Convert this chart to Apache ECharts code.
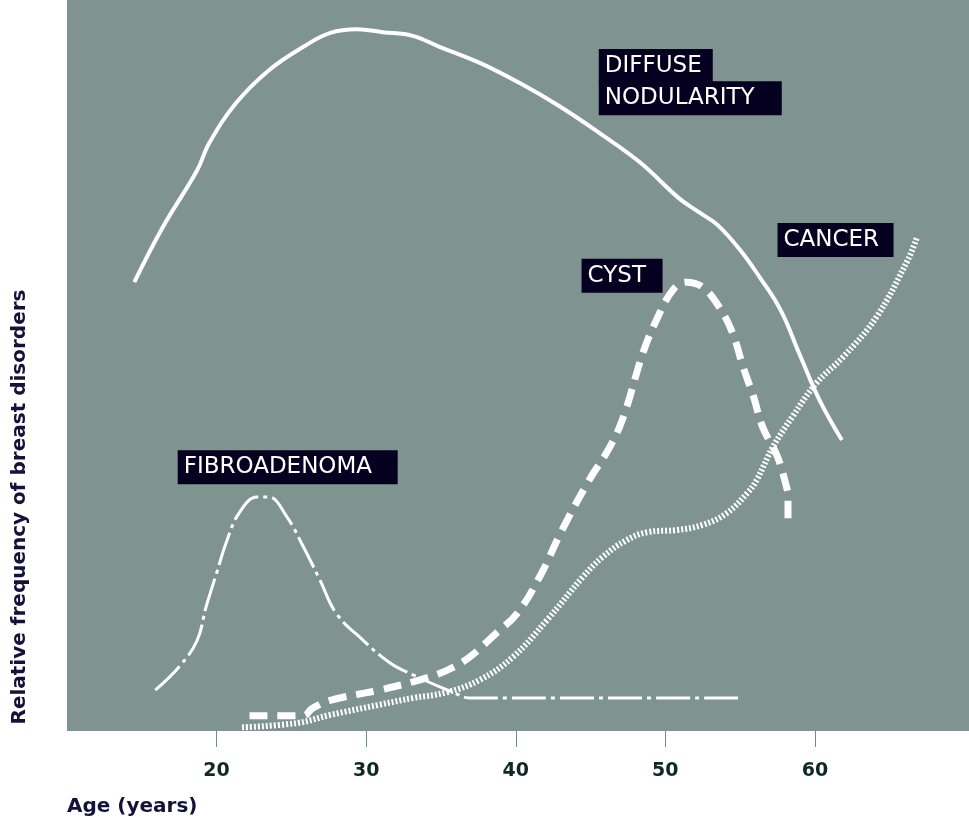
<!DOCTYPE html>
<html>
<head>
<meta charset="utf-8">
<script src="https://cdn.jsdelivr.net/npm/echarts@6/dist/echarts.min.js"></script>
<style>
  html, body { margin: 0; padding: 0; background: #ffffff; }
  #chart { width: 969px; height: 826px; }
</style>
</head>
<body>
<div id="chart"></div>
<script>
// x = age in years, y = relative frequency (0-100, no scale shown)
var ageTicks = [20, 30, 40, 50, 60]

var nodularityAge  = [14.5, 16.4, 18.7, 19.5, 21.3, 23.5, 25.8, 27.6, 29.4, 31.1, 33.1, 34.9, 37.6, 40.3, 42.9, 45.6, 48.3, 50.9, 52.3, 53.5, 55.0, 56.3, 57.7, 59.0, 60.3, 61.8]
var nodularityFreq = [61.4, 68.9, 76.7, 80.4, 85.9, 90.4, 93.6, 95.5, 96.0, 95.6, 95.1, 93.6, 91.4, 88.6, 85.5, 81.8, 77.8, 72.9, 70.9, 69.2, 65.8, 62.1, 57.6, 51.4, 45.3, 39.8]

var cystAge  = [22.2, 25.8, 26.4, 27.6, 30.9, 33.6, 35.4, 36.9, 38.7, 40.1, 41.6, 43.1, 44.9, 46.3, 47.2, 48.5, 49.4, 50.5, 51.4, 52.5, 53.6, 54.5, 55.2, 55.9, 56.5, 57.5, 58.1, 58.2, 58.2]
var cystFreq = [2.1, 2.1, 3.1, 4.2, 5.6, 7.0, 8.3, 10.1, 13.4, 16.1, 21.1, 27.5, 34.3, 38.9, 43.0, 51.7, 56.2, 60.3, 61.4, 60.7, 58.0, 54.4, 49.8, 45.7, 41.6, 37.5, 33.4, 32.3, 29.1]

var cancerAge  = [21.7, 25.4, 27.6, 30.9, 33.1, 35.4, 37.6, 39.8, 42.1, 44.5, 45.8, 47.4, 48.8, 50.8, 52.5, 54.1, 55.5, 56.1, 57.2, 58.5, 60.1, 61.9, 64.1, 66.2, 66.8]
var cancerFreq = [0.5, 1.1, 2.2, 3.6, 4.5, 5.3, 7.0, 10.1, 15.2, 21.1, 23.8, 26.1, 27.2, 27.5, 28.2, 29.8, 32.6, 34.3, 38.9, 43.0, 47.6, 51.2, 56.6, 64.4, 67.4]

var fibroAge  = [15.9, 17.5, 18.7, 19.3, 20.0, 20.7, 21.5, 22.7, 23.5, 24.7, 25.8, 26.9, 28.0, 29.8, 31.6, 33.1, 35.8, 37.0, 55.1]
var fibroFreq = [5.6, 8.8, 12.4, 17.0, 21.6, 26.1, 29.8, 32.0, 32.0, 29.3, 25.2, 20.7, 16.1, 12.4, 9.3, 7.7, 5.3, 4.5, 4.5]

// label boxes: top-left corner in data coordinates
var labelText = ['DIFFUSE', 'NODULARITY', 'CYST', 'CANCER', 'FIBROADENOMA']
var labelAge  = [45.55, 45.55, 44.4, 57.5, 17.4]
var labelFreq = [93.3, 88.9, 64.6, 69.5, 38.4]
var labelWidth = [102, 171, 69, 104, 208]

function pairs(xs, ys) {
  return xs.map(function (x, i) { return [x, ys[i]] })
}

var chart = echarts.init(document.getElementById('chart'))

var labelPoints = labelText.map(function (t, i) {
  return {
    name: t,
    coord: [labelAge[i], labelFreq[i]],
    label: { width: labelWidth[i] }
  }
})

chart.setOption({
  animation: false,
  grid: {
    left: 67,
    right: 0,
    top: 0,
    bottom: 95,
    show: true,
    backgroundColor: '#7f9490',
    borderWidth: 0
  },
  xAxis: {
    type: 'value',
    min: 10,
    max: 70.3,
    interval: 10,
    splitLine: { show: false },
    axisLine: { show: false },
    axisTick: {
      show: true,
      customValues: ageTicks,
      length: 16,
      lineStyle: { color: '#75888a', width: 1 }
    },
    axisLabel: {
      customValues: ageTicks,
      margin: 31,
      color: '#0f2a26',
      fontFamily: 'DejaVu Sans',
      fontWeight: 'bold',
      fontSize: 19
    }
  },
  yAxis: {
    type: 'value',
    min: 0,
    max: 100,
    axisLine: { show: false },
    axisTick: { show: false },
    axisLabel: { show: false },
    splitLine: { show: false }
  },
  graphic: [
    {
      type: 'text',
      left: 67,
      top: 797,
      style: {
        text: 'Age (years)',
        fill: '#15113a',
        font: 'bold 20px "DejaVu Sans"'
      }
    },
    {
      type: 'text',
      x: 20,
      y: 507,
      rotation: Math.PI / 2,
      style: {
        text: 'Relative frequency of breast disorders',
        fill: '#15113a',
        font: 'bold 20px "DejaVu Sans"',
        align: 'center',
        verticalAlign: 'middle'
      }
    }
  ],
  series: [
    {
      name: 'Diffuse nodularity',
      type: 'line',
      smooth: 0.4,
      showSymbol: false,
      data: pairs(nodularityAge, nodularityFreq),
      lineStyle: { color: '#ffffff', width: 4 }
    },
    {
      name: 'Cyst',
      type: 'line',
      smooth: 0.4,
      showSymbol: false,
      data: pairs(cystAge, cystFreq),
      lineStyle: { color: '#ffffff', width: 7, type: [18, 10], cap: 'butt' }
    },
    {
      name: 'Cancer',
      type: 'line',
      smooth: 0.4,
      showSymbol: false,
      data: pairs(cancerAge, cancerFreq),
      lineStyle: { color: '#ffffff', width: 6, type: [2, 2], cap: 'butt' }
    },
    {
      name: 'Fibroadenoma',
      type: 'line',
      smooth: 0.4,
      showSymbol: false,
      data: pairs(fibroAge, fibroFreq),
      lineStyle: { color: '#ffffff', width: 3, type: [34, 5, 4, 5], cap: 'butt' },
      markPoint: {
        symbol: 'rect',
        symbolSize: 0,
        silent: true,
        label: {
          show: true,
          position: [0, 0],
          align: 'left',
          verticalAlign: 'top',
          formatter: '{b}',
          color: '#ffffff',
          backgroundColor: '#05001f',
          fontFamily: 'DejaVu Sans',
          fontSize: 23,
          lineHeight: 24,
          padding: [5, 6, 5, 6]
        },
        data: labelPoints
      }
    }
  ]
})
</script>
</body>
</html>
